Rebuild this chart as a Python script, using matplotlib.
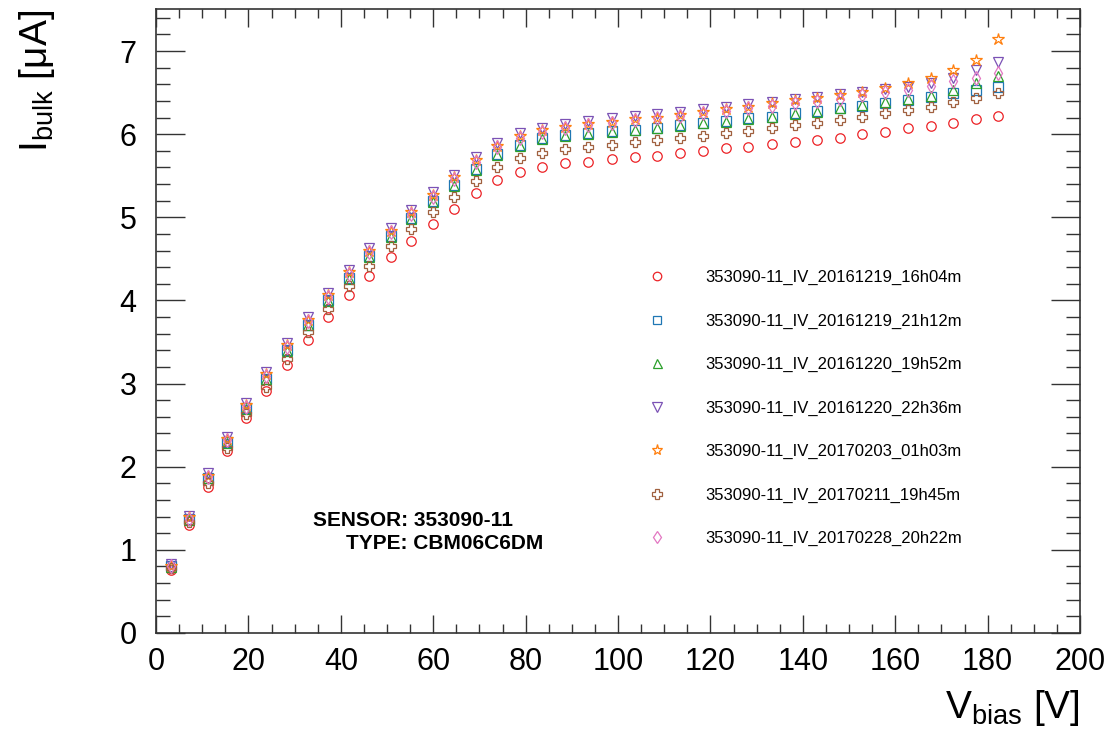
import matplotlib
matplotlib.use('Agg')
import matplotlib.pyplot as plt
from matplotlib.ticker import MultipleLocator

plt.rcParams['font.family'] = ['Liberation Sans', 'DejaVu Sans']
plt.rcParams['mathtext.fontset'] = 'custom'
plt.rcParams['mathtext.rm'] = 'Liberation Sans'
plt.rcParams['mathtext.it'] = 'Liberation Sans:italic'

# bias voltage steps [V]
v_bias = [3.2, 7.2, 11.3, 15.3, 19.4, 23.8, 28.3, 32.8, 37.2, 41.8, 46.1, 50.9, 55.2,
          59.9, 64.5, 69.2, 73.9, 78.7, 83.6, 88.6, 93.6, 98.6, 103.6, 108.4, 113.5,
          118.4, 123.3, 128.2, 133.3, 138.2, 143.0, 148.0, 152.9, 157.7, 162.8, 167.7,
          172.6, 177.5, 182.3]

# bulk current [uA] for each run
i_20161219_16h04 = [0.76, 1.30, 1.76, 2.19, 2.58, 2.91, 3.22, 3.53, 3.80, 4.06, 4.29, 4.52, 4.72,
                    4.92, 5.10, 5.29, 5.45, 5.55, 5.61, 5.65, 5.67, 5.70, 5.72, 5.74, 5.77,
                    5.80, 5.83, 5.85, 5.88, 5.91, 5.93, 5.96, 6.00, 6.03, 6.07, 6.10,
                    6.14, 6.18, 6.22]
i_20161219_21h12 = [0.80, 1.37, 1.87, 2.30, 2.71, 3.06, 3.40, 3.71, 4.00, 4.27, 4.53, 4.77, 4.99,
                    5.20, 5.39, 5.58, 5.76, 5.87, 5.95, 5.99, 6.01, 6.04, 6.05, 6.08, 6.11,
                    6.13, 6.16, 6.19, 6.21, 6.25, 6.28, 6.31, 6.34, 6.37, 6.41, 6.45,
                    6.49, 6.53, 6.57]
i_20161220_19h52 = [0.79, 1.36, 1.86, 2.29, 2.70, 3.05, 3.39, 3.70, 3.99, 4.26, 4.52, 4.76, 4.98,
                    5.19, 5.38, 5.57, 5.75, 5.86, 5.94, 5.98, 6.00, 6.03, 6.05, 6.07, 6.10,
                    6.13, 6.15, 6.18, 6.21, 6.24, 6.27, 6.32, 6.35, 6.39, 6.42, 6.46,
                    6.53, 6.62, 6.70]
i_20161220_22h36 = [0.83, 1.41, 1.92, 2.36, 2.77, 3.14, 3.49, 3.80, 4.09, 4.37, 4.63, 4.87, 5.09,
                    5.30, 5.51, 5.72, 5.89, 6.01, 6.08, 6.12, 6.16, 6.19, 6.22, 6.24, 6.27,
                    6.30, 6.33, 6.36, 6.39, 6.42, 6.45, 6.48, 6.51, 6.54, 6.57, 6.61,
                    6.68, 6.77, 6.87]
i_20170203_01h03 = [0.81, 1.39, 1.89, 2.33, 2.74, 3.11, 3.46, 3.77, 4.06, 4.34, 4.60, 4.84, 5.06,
                    5.27, 5.48, 5.69, 5.86, 5.98, 6.05, 6.09, 6.12, 6.15, 6.18, 6.20, 6.23,
                    6.27, 6.30, 6.33, 6.37, 6.41, 6.44, 6.47, 6.51, 6.56, 6.62, 6.68,
                    6.77, 6.89, 7.14]
i_20170211_19h45 = [0.78, 1.33, 1.80, 2.23, 2.63, 2.96, 3.29, 3.62, 3.90, 4.17, 4.42, 4.65, 4.86,
                    5.06, 5.25, 5.44, 5.60, 5.71, 5.77, 5.82, 5.85, 5.87, 5.90, 5.93, 5.96,
                    5.98, 6.01, 6.04, 6.07, 6.11, 6.14, 6.17, 6.21, 6.25, 6.29, 6.33,
                    6.39, 6.43, 6.49]
i_20170228_20h22 = [0.80, 1.37, 1.88, 2.32, 2.72, 3.09, 3.44, 3.75, 4.04, 4.32, 4.58, 4.82, 5.04,
                    5.25, 5.46, 5.67, 5.84, 5.96, 6.03, 6.07, 6.11, 6.14, 6.17, 6.19, 6.22,
                    6.25, 6.28, 6.31, 6.34, 6.38, 6.40, 6.42, 6.47, 6.51, 6.53, 6.58,
                    6.64, 6.68, 6.73]

run_names = ['353090-11_IV_20161219_16h04m', '353090-11_IV_20161219_21h12m',
             '353090-11_IV_20161220_19h52m', '353090-11_IV_20161220_22h36m',
             '353090-11_IV_20170203_01h03m', '353090-11_IV_20170211_19h45m',
             '353090-11_IV_20170228_20h22m']
currents = [i_20161219_16h04, i_20161219_21h12, i_20161220_19h52, i_20161220_22h36,
            i_20170203_01h03, i_20170211_19h45, i_20170228_20h22]
colors = ['#ec2226', '#1f77b4', '#2ca02c', '#7b52b5', '#ff7f0e', '#a0603f', '#e377c2']
markers = ['o', 's', '^', 'v', '*', 'P', 'd']
sizes = [6.8, 7.0, 7.2, 7.8, 8.8, 7.8, 7.2]

fig = plt.figure(figsize=(11.15, 7.35), dpi=100)
ax = fig.add_axes([0.140, 0.1388, 0.8286, 0.8483])

for name, cur, col, mk, ms in zip(run_names, currents, colors, markers, sizes):
    ax.plot(v_bias, cur, ls='none', marker=mk, ms=ms, mfc='none', mec=col, mew=0.9,
            label=name)

ax.set_xlim(0, 200)
ax.set_ylim(0, 7.5)
ax.xaxis.set_major_locator(MultipleLocator(20))
ax.xaxis.set_minor_locator(MultipleLocator(5))
ax.yaxis.set_major_locator(MultipleLocator(1))
ax.yaxis.set_minor_locator(MultipleLocator(0.2))

ax.tick_params(axis='both', which='both', direction='in', top=True, right=True,
               color='#333333', width=1.0)
ax.tick_params(axis='x', which='major', length=13, labelsize=22, pad=10)
ax.tick_params(axis='x', which='minor', length=6.5)
ax.tick_params(axis='y', which='major', length=21, labelsize=22, pad=14)
ax.tick_params(axis='y', which='minor', length=10)
for sp in ax.spines.values():
    sp.set_linewidth(1.2)
    sp.set_color('#333333')

ax.set_xlabel(r'$\mathregular{V_{bias}}$ [V]', fontsize=28, ha='right', va='top')
ax.xaxis.set_label_coords(1.0, -0.088)
ax.set_ylabel(r'$\mathregular{I_{bulk}}$ [$\mathregular{\mu}$A]', fontsize=28, ha='right')
ax.yaxis.set_label_coords(-0.107, 1.0)

ax.text(0.386, 0.181, 'SENSOR: 353090-11', transform=ax.transAxes, ha='right',
        va='center', fontsize=15, fontweight='bold')
ax.text(0.419, 0.144, 'TYPE: CBM06C6DM', transform=ax.transAxes, ha='right',
        va='center', fontsize=15, fontweight='bold')

ax.legend(loc='upper left', bbox_to_anchor=(0.533, 0.582), frameon=False, fontsize=12,
          handlelength=1.0, handletextpad=2.4, labelspacing=1.70, borderpad=0,
          borderaxespad=0, markerscale=0.9)

fig.savefig('out.png', dpi=100)
